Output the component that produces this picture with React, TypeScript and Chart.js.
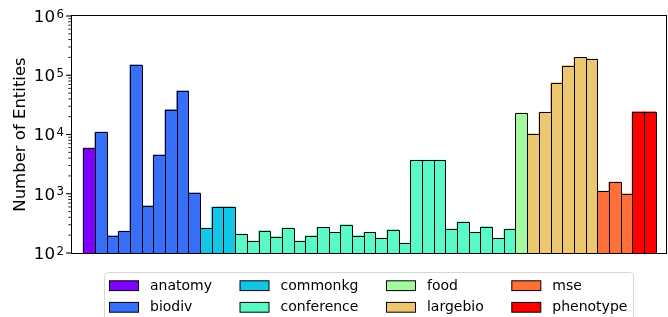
import { useEffect, useRef } from 'react';
import { Chart, registerables } from 'chart.js';

Chart.register(...registerables);

const categories = ['anatomy', 'biodiv', 'commonkg', 'conference', 'food', 'largebio', 'mse', 'phenotype'];
const anatomyValues = [5850];
const biodivValues = [10900, 194, 232, 149000, 621, 4510, 26200, 54200, 1030];
const commonkgValues = [261, 597, 597];
const conferenceValues = [207, 159, 238, 189, 264, 159, 196, 271, 223, 300, 196, 223, 177, 248, 146, 3670, 3670, 3670, 254, 334, 223, 278, 177, 254];
const foodValues = [22800];
const largebioValues = [10300, 23700, 74900, 145000, 200000, 188000];
const mseValues = [1100, 1560, 990];
const phenotypeValues = [24000, 24000];
const seriesValues = [anatomyValues, biodivValues, commonkgValues, conferenceValues, foodValues, largebioValues, mseValues, phenotypeValues];
const colors = ['#8000ff', '#376ff9', '#12c7e6', '#5bf9c7', '#a4f99f', '#edc76f', '#ff6f39', '#ff0000'];
const yMin = 100;
const yMax = 1000000;
const yTickExponents = [2, 3, 4, 5, 6];
const yTitle = 'Number of Entities';

const FONT = '"DejaVu Sans", sans-serif';

export default function App() {
  const ref = useRef<HTMLCanvasElement>(null);

  useEffect(() => {
    if (!ref.current) return;
    let start = 0;
    const datasets = categories.map((name, i) => {
      const data = seriesValues[i].map((v, j) => ({ x: start + j, y: v }));
      start += seriesValues[i].length;
      return {
        label: name,
        data,
        backgroundColor: colors[i],
        borderWidth: 0,
        inflateAmount: 0.5,
        grouped: false,
        barPercentage: 1,
        categoryPercentage: 1,
      };
    });
    const total = start;
    const indexes = Array.from({ length: total }, (_, i) => i);

    const decor = {
      id: 'decor',
      afterDatasetsDraw(chart: any) {
        const { ctx, chartArea: a } = chart;
        const y = chart.scales.y;
        ctx.save();
        // bar outlines (matplotlib style, centred on the bar edges)
        ctx.strokeStyle = '#000000';
        ctx.lineWidth = 1;
        chart.data.datasets.forEach((_: any, di: number) => {
          const meta = chart.getDatasetMeta(di);
          meta.data.forEach((el: any) => {
            const p = el.getProps(['x', 'y', 'base', 'width'], true);
            const l = Math.round(p.x - p.width / 2) + 0.5;
            const r = Math.round(p.x + p.width / 2) + 0.5;
            const t = Math.round(p.y) + 0.5;
            const b = Math.round(p.base) + 0.5;
            ctx.beginPath();
            ctx.moveTo(l, b);
            ctx.lineTo(l, t);
            ctx.lineTo(r, t);
            ctx.lineTo(r, b);
            ctx.stroke();
          });
        });
        // frame
        ctx.strokeStyle = '#000000';
        ctx.lineWidth = 1;
        ctx.strokeRect(a.left + 0.5, a.top - 0.5, a.right - a.left - 1, a.bottom - a.top + 1);
        // minor ticks
        ctx.lineWidth = 0.8;
        for (let e = yTickExponents[0]; e < yTickExponents[yTickExponents.length - 1]; e++) {
          for (let m = 2; m < 10; m++) {
            const py = y.getPixelForValue(m * Math.pow(10, e));
            ctx.beginPath();
            ctx.moveTo(a.left, py);
            ctx.lineTo(a.left - 2.8, py);
            ctx.stroke();
          }
        }
        // major ticks + labels
        ctx.lineWidth = 1.1;
        ctx.fillStyle = '#000000';
        ctx.textBaseline = 'middle';
        ctx.textAlign = 'right';
        for (const e of yTickExponents) {
          const py = y.getPixelForValue(Math.pow(10, e));
          ctx.beginPath();
          ctx.moveTo(a.left + 0.5, py);
          ctx.lineTo(a.left - 4.9, py);
          ctx.stroke();
          const exp = String(e);
          ctx.font = `11.7px ${FONT}`;
          const ew = ctx.measureText(exp).width;
          const rightX = a.left - 7;
          ctx.fillText(exp, rightX, py - 1.5);
          ctx.font = `16.7px ${FONT}`;
          ctx.fillText('10', rightX - ew - 1.5, py + 1.5);
        }
        // y title
        ctx.save();
        ctx.translate(25, (a.top + a.bottom) / 2);
        ctx.rotate(-Math.PI / 2);
        ctx.textAlign = 'center';
        ctx.textBaseline = 'alphabetic';
        ctx.font = `16.5px ${FONT}`;
        ctx.fillText(yTitle, 0, 0);
        ctx.restore();
        ctx.restore();
      },
      afterDraw(chart: any) {
        const { ctx } = chart;
        ctx.save();
        // legend frame
        const bx = 104.5, by = 272.5, bw = 529, bh = 60, r = 4;
        ctx.beginPath();
        ctx.moveTo(bx + r, by);
        ctx.lineTo(bx + bw - r, by);
        ctx.arcTo(bx + bw, by, bx + bw, by + r, r);
        ctx.lineTo(bx + bw, by + bh);
        ctx.lineTo(bx, by + bh);
        ctx.lineTo(bx, by + r);
        ctx.arcTo(bx, by, bx + r, by, r);
        ctx.closePath();
        ctx.fillStyle = 'rgba(255,255,255,0.8)';
        ctx.fill();
        ctx.strokeStyle = '#d6d6d6';
        ctx.lineWidth = 1;
        ctx.stroke();
        ctx.font = `14px ${FONT}`;
        ctx.textBaseline = 'middle';
        ctx.textAlign = 'left';
        const rowsY = [285.7, 307.3];
        const nCols = Math.ceil(categories.length / 2);
        let colX = 109.5;
        for (let c = 0; c < nCols; c++) {
          let maxW = 0;
          for (let rIdx = 0; rIdx < 2; rIdx++) {
            const k = c * 2 + rIdx;
            if (k >= categories.length) continue;
            const ry = rowsY[rIdx];
            ctx.fillStyle = colors[k];
            ctx.fillRect(colX, ry - 4.9, 29, 9.8);
            ctx.strokeStyle = '#000000';
            ctx.lineWidth = 1;
            ctx.strokeRect(colX, ry - 4.9, 29, 9.8);
            ctx.fillStyle = '#000000';
            ctx.fillText(categories[k], colX + 40.5, ry + 0.5);
            maxW = Math.max(maxW, ctx.measureText(categories[k]).width);
          }
          colX = colX + 40.5 + maxW + 28;
        }
        ctx.restore();
      },
    };

    const chart = new Chart(ref.current, {
      type: 'bar',
      data: { datasets: datasets as any },
      options: {
        animation: false,
        responsive: true,
        maintainAspectRatio: false,
        layout: { padding: { left: 71, right: 1, top: 16, bottom: 64 } },
        plugins: { legend: { display: false }, tooltip: { enabled: false } },
        scales: {
          x: {
            type: 'linear',
            display: false,
            offset: false,
            min: -1.553,
            max: 49.47,
            afterBuildTicks: (axis: any) => {
              axis.ticks = indexes.map((v) => ({ value: v }));
            },
          },
          y: {
            type: 'logarithmic',
            display: false,
            min: yMin,
            max: yMax,
          },
        },
      },
      plugins: [decor],
    });
    return () => chart.destroy();
  }, []);

  return (
    <div style={{ position: 'fixed', left: 0, top: 0, width: 668, height: 317, background: '#ffffff' }}>
      <canvas ref={ref} />
    </div>
  );
}
